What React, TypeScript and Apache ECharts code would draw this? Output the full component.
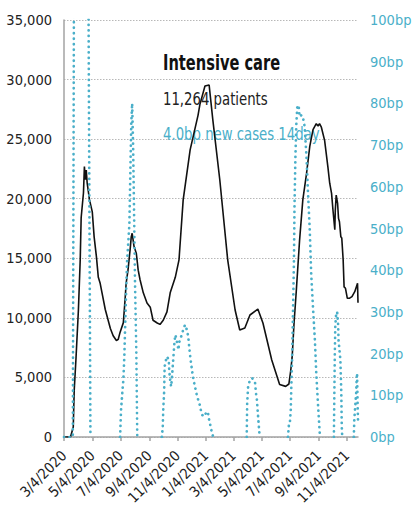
import React, { useEffect, useRef } from 'react';
import * as echarts from 'echarts';

// Intensive care patients (left axis)
const icuDates = [
  '2020-03-04', '2020-03-18', '2020-03-24', '2020-03-26', '2020-03-30', '2020-04-04', '2020-04-08',
  '2020-04-10', '2020-04-15', '2020-04-17', '2020-04-19', '2020-04-21', '2020-04-23', '2020-04-28',
  '2020-05-04', '2020-05-08', '2020-05-13', '2020-05-17', '2020-05-21', '2020-05-25', '2020-06-01',
  '2020-06-12', '2020-06-18', '2020-06-25', '2020-06-29', '2020-07-03', '2020-07-10', '2020-07-14',
  '2020-07-16', '2020-07-20', '2020-07-25', '2020-07-27', '2020-07-29', '2020-08-02', '2020-08-07',
  '2020-08-11', '2020-08-15', '2020-08-22', '2020-08-30', '2020-09-06', '2020-09-12', '2020-09-21',
  '2020-09-27', '2020-10-04', '2020-10-12', '2020-10-19', '2020-10-30', '2020-11-07', '2020-11-16',
  '2020-12-01', '2020-12-18', '2020-12-22', '2021-01-02', '2021-01-11', '2021-01-19', '2021-02-03',
  '2021-02-20', '2021-03-08', '2021-03-18', '2021-03-29', '2021-04-09', '2021-04-26', '2021-05-07',
  '2021-05-26', '2021-06-12', '2021-06-25', '2021-07-02', '2021-07-06', '2021-07-09', '2021-07-13',
  '2021-07-18', '2021-07-25', '2021-08-01', '2021-08-09', '2021-08-16', '2021-08-23', '2021-08-30',
  '2021-09-03', '2021-09-06', '2021-09-10', '2021-09-17', '2021-09-24', '2021-09-28', '2021-10-02',
  '2021-10-05', '2021-10-09', '2021-10-10', '2021-10-12', '2021-10-15', '2021-10-17', '2021-10-19',
  '2021-10-22', '2021-10-24', '2021-10-27', '2021-10-29', '2021-11-01', '2021-11-05', '2021-11-10',
  '2021-11-15', '2021-11-21', '2021-11-27', '2021-11-28',
];
const icuValues = [
  0, 0, 840, 3900, 6700, 10600, 14900,
  18400, 20500, 22700, 21600, 22400, 21300, 19900,
  18900, 16800, 15100, 13400, 12900, 12100, 10700,
  9100, 8500, 8100, 8200, 8800, 9600, 11700,
  12900, 14000, 15900, 16800, 17100, 16000, 15400,
  14000, 13200, 12100, 11250, 10900, 9800, 9570,
  9450, 9800, 10500, 12100, 13400, 14860, 19900,
  24100, 27000, 27900, 29460, 29540, 26600, 21570,
  14860, 10660, 8980, 9150, 10240, 10740, 9570,
  6460, 4400, 4250, 4450, 5600, 6700, 9500,
  12300, 16500, 19900, 22100, 24400, 25800, 26300,
  26100, 26300, 26000, 24900, 22700, 21300, 20450,
  19050, 17400, 19000, 20300, 19600, 18350, 18070,
  16800, 16700, 14860, 12600, 12480, 11640, 11650,
  11780, 12200, 12900, 11264,
];

// New cases per 14 days, basis points (right axis); null = not shown
const caseDates = [
  '2020-03-04', '2020-03-23', '2020-03-26', '2020-04-05', '2020-04-15', '2020-04-24', '2020-04-30',
  '2020-05-01',
  '2020-07-03', '2020-07-05', '2020-07-08', '2020-07-10', '2020-07-12', '2020-07-14', '2020-07-16',
  '2020-07-18', '2020-07-23', '2020-07-25', '2020-07-27', '2020-07-29', '2020-07-31', '2020-08-02',
  '2020-08-04', '2020-08-07', '2020-08-09',
  '2020-08-10',
  '2020-10-01', '2020-10-03', '2020-10-04', '2020-10-06', '2020-10-07', '2020-10-10', '2020-10-12',
  '2020-10-16', '2020-10-17', '2020-10-19', '2020-10-21', '2020-10-23', '2020-10-26', '2020-10-28',
  '2020-10-30', '2020-11-01', '2020-11-03', '2020-11-06', '2020-11-07', '2020-11-09', '2020-11-13',
  '2020-11-16', '2020-11-20', '2020-11-24', '2020-11-27', '2020-11-29', '2020-12-02', '2020-12-06',
  '2020-12-09', '2020-12-13', '2020-12-16', '2020-12-21', '2020-12-24', '2020-12-27', '2020-12-31',
  '2021-01-04', '2021-01-08', '2021-01-11', '2021-01-15', '2021-01-17', '2021-01-20',
  '2021-01-21',
  '2021-04-02', '2021-04-03', '2021-04-05', '2021-04-09', '2021-04-13', '2021-04-15', '2021-04-20',
  '2021-04-22', '2021-04-24', '2021-04-26', '2021-04-30',
  '2021-05-01',
  '2021-06-30', '2021-07-02', '2021-07-04', '2021-07-06', '2021-07-07', '2021-07-09', '2021-07-11',
  '2021-07-13', '2021-07-14', '2021-07-16', '2021-07-18', '2021-07-20', '2021-07-23', '2021-07-25',
  '2021-07-29', '2021-08-01', '2021-08-05', '2021-08-09', '2021-08-12', '2021-08-16', '2021-08-19',
  '2021-08-23', '2021-08-27', '2021-08-30', '2021-09-03', '2021-09-07',
  '2021-09-08',
  '2021-10-07', '2021-10-08', '2021-10-09', '2021-10-10', '2021-10-12', '2021-10-14', '2021-10-16',
  '2021-10-17', '2021-10-19', '2021-10-21', '2021-10-23', '2021-10-24', '2021-10-25',
  '2021-10-26',
  '2021-11-19', '2021-11-20', '2021-11-22', '2021-11-24', '2021-11-25', '2021-11-26', '2021-11-27',
  '2021-11-28',
];
const caseValues = [
  0, 0, 130, 200, 190, 150, 0,
  null,
  0, 6.5, 11, 13.7, 19, 27, 35,
  42, 51, 63, 75, 80, 70, 55,
  38, 20, 0,
  null,
  0, 2.5, 6.5, 11, 16.9, 18.5, 19.3,
  18.5, 15.7, 13.7, 12.1, 14.5, 19.3, 22.5,
  24.5, 23.7, 22.5, 20.9, 22.5, 23.3, 24.5,
  25.7, 26.9, 25.7, 24, 21.6, 18.5, 15.3,
  13.3, 11.3, 9.7, 8.1, 6.5, 5.3, 4.9,
  5.7, 6.1, 4.1, 2.1, 0.9, 0,
  null,
  0, 8, 12, 13.7, 14.1, 14, 13,
  10.5, 8.9, 5.7, 0,
  null,
  0, 3, 3.3, 6.5, 11.3, 19.3, 31,
  43, 55, 67, 75, 79, 79.6, 76.8,
  77.2, 76.8, 74.4, 67, 59, 49.6, 39.3,
  31, 23.3, 15.3, 7.3, 0,
  null,
  0, 10.5, 20, 26.5, 29.7, 30, 27.3,
  23.3, 20.9, 18.5, 10.5, 2.5, 0,
  null,
  0, 4.1, 7.3, 10.5, 13.7, 15.3, 8.9,
  4.0,
];

const tickLabels = [
  '3/4/2020', '5/4/2020', '7/4/2020', '9/4/2020', '11/4/2020', '1/4/2021',
  '3/4/2021', '5/4/2021', '7/4/2021', '9/4/2021', '11/4/2021',
];

const leftMax = 35000;
const leftStep = 5000;
const rightMax = 100;
const rightStep = 10;

const FONT = "'DejaVu Sans Condensed', 'DejaVu Sans', sans-serif";
const BLUE = '#4aafc9';
const AXIS_GRAY = '#a3a3a3';

function ts(s: string) {
  const [y, m, d] = s.split('-').map(Number);
  return Date.UTC(y, m - 1, d);
}
function tickTs(l: string) {
  const [m, d, y] = l.split('/').map(Number);
  return Date.UTC(y, m - 1, d);
}

export default function App() {
  const ref = useRef<HTMLDivElement>(null);

  useEffect(() => {
    document.body.style.margin = '0';
    if (!ref.current) return;
    const chart = echarts.init(ref.current, null, { renderer: 'svg' });
    const tickValues = tickLabels.map(tickTs);
    const labelFor = (v: number) => {
      for (let i = 0; i < tickValues.length; i++) {
        if (Math.abs(tickValues[i] - v) < 43200000) return tickLabels[i];
      }
      return '';
    };
    const icuData = icuDates.map((d, i) => [ts(d), icuValues[i]]);
    const caseData = caseDates.map((d, i) => [ts(d), caseValues[i]]);

    chart.setOption({
      animation: false,
      backgroundColor: '#ffffff',
      grid: { left: 64, right: 54, top: 20, bottom: 84, containLabel: false, outerBoundsMode: 'none' },
      xAxis: {
        type: 'value',
        min: ts(icuDates[0]),
        max: ts(icuDates[icuDates.length - 1]),
        axisLine: { show: true, onZero: false, lineStyle: { color: AXIS_GRAY, width: 1.5 } },
        axisTick: { show: true, customValues: tickValues, length: 4, lineStyle: { color: AXIS_GRAY, width: 1.5 } },
        axisLabel: {
          customValues: tickValues,
          rotate: 45,
          margin: 16,
          color: '#222',
          fontSize: 14.5,
          fontFamily: FONT,
          hideOverlap: false,
          showMinLabel: true,
          showMaxLabel: true,
          formatter: (v: number) => labelFor(v),
        },
        splitLine: { show: false },
      },
      yAxis: [
        {
          type: 'value',
          min: 0,
          max: leftMax,
          interval: leftStep,
          position: 'left',
          axisLine: { show: true, lineStyle: { color: AXIS_GRAY, width: 1.5 } },
          axisTick: { show: false },
          axisLabel: {
            color: '#222',
            fontSize: 14.5,
            fontFamily: FONT,
            margin: 12,
            formatter: (v: number) => v.toLocaleString('en-US'),
          },
          splitLine: { show: true, lineStyle: { color: '#b8b8b8', width: 1, type: [1.5, 1.5] } },
        },
        {
          type: 'value',
          min: 0,
          max: rightMax,
          interval: rightStep,
          position: 'right',
          axisLine: { show: false },
          axisTick: { show: false },
          splitLine: { show: false },
          axisLabel: {
            color: BLUE,
            fontSize: 14.5,
            fontFamily: FONT,
            margin: 12,
            formatter: (v: number) => v + 'bp',
          },
        },
      ],
      graphic: [
        {
          type: 'text', x: 163, y: 63, z: 1, scaleX: 0.775,
          style: { text: 'Intensive care', fill: '#111', font: `bold 21px ${FONT}`, align: 'left', verticalAlign: 'middle' },
        },
        {
          type: 'text', x: 163, y: 98.5, z: 1, scaleX: 0.82,
          style: { text: '11,264 patients', fill: '#222', font: `18px ${FONT}`, align: 'left', verticalAlign: 'middle' },
        },
        {
          type: 'text', x: 163, y: 133.5, z: 1, scaleX: 0.82,
          style: { text: '4.0bp new cases 14day', fill: BLUE, font: `18px ${FONT}`, align: 'left', verticalAlign: 'middle' },
        },
      ],
      series: [
        {
          name: 'Intensive care',
          type: 'line',
          yAxisIndex: 0,
          data: icuData,
          symbol: 'none',
          showSymbol: false,
          lineStyle: { color: '#111', width: 1.6 },
          z: 3,
        },
        {
          name: 'New cases 14day',
          type: 'line',
          yAxisIndex: 1,
          data: caseData,
          symbol: 'none',
          showSymbol: false,
          connectNulls: false,
          lineStyle: { color: BLUE, width: 2.7, type: [0.1, 5.4], cap: 'round', join: 'round' },
          z: 4,
        },
      ],
    });
    return () => chart.dispose();
  }, []);

  return (
    <div
      ref={ref}
      style={{ position: 'fixed', left: 0, top: 0, width: 412, height: 521, background: '#fff' }}
    />
  );
}
